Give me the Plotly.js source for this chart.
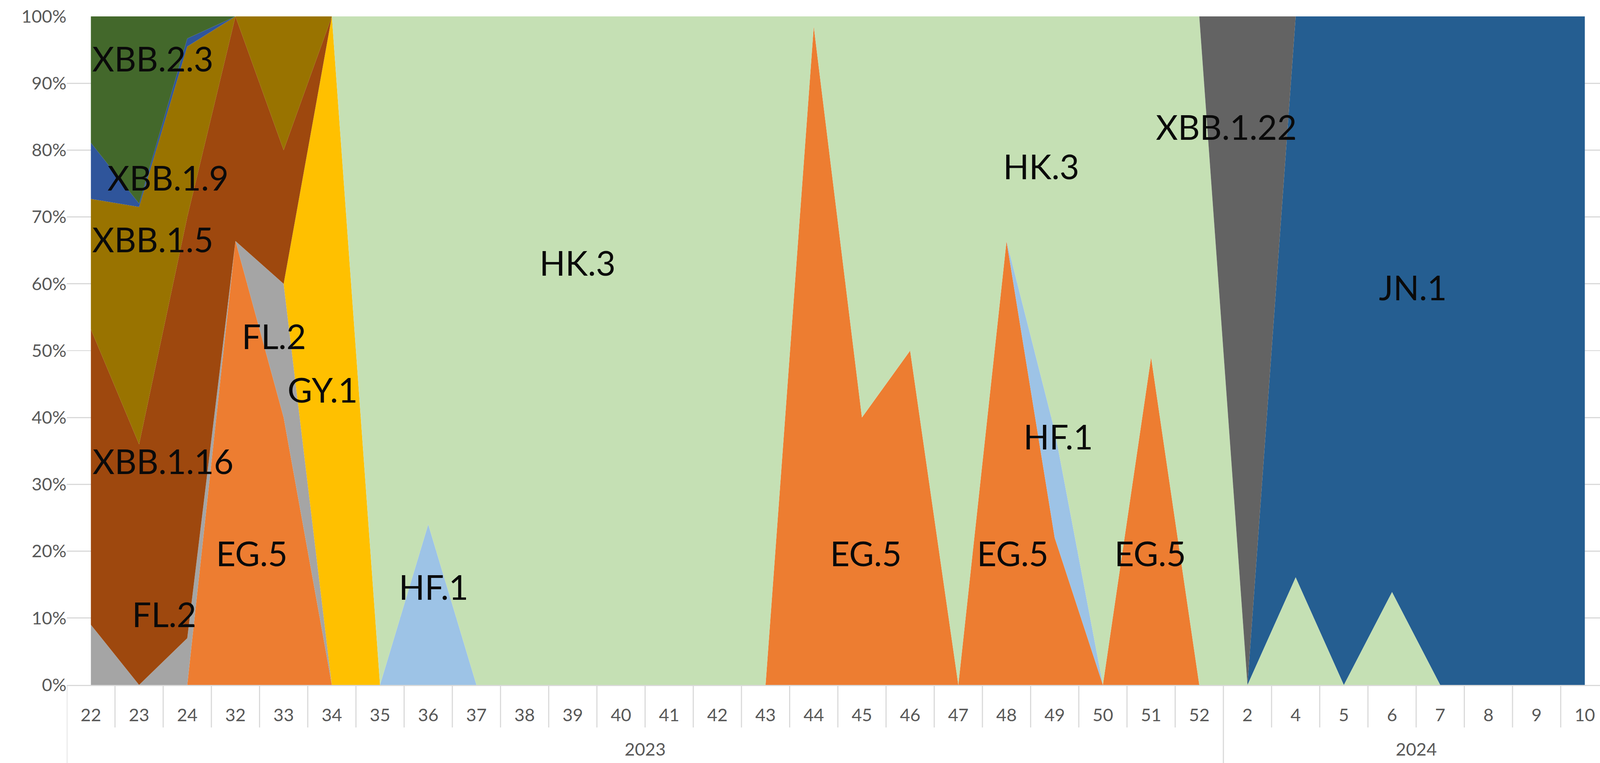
<!DOCTYPE html>
<html>
<head>
<meta charset="utf-8">
<script src="https://cdn.plot.ly/plotly-3.0.1.min.js"></script>
<style>
html,body{margin:0;padding:0;background:#fff;overflow:hidden;}
#chart{position:absolute;left:0;top:0;}
</style>
</head>
<body>
<div id="chart"></div>
<script>
// Categories (week numbers) and their year groups
const weeks = ['22','23','24','32','33','34','35','36','37','38','39','40','41','42','43','44','45','46','47','48','49','50','51','52','2','4','5','6','7','8','9','10'];
const years = ['2023','2023','2023','2023','2023','2023','2023','2023','2023','2023','2023','2023','2023','2023','2023','2023','2023','2023','2023','2023','2023','2023','2023','2023','2024','2024','2024','2024','2024','2024','2024','2024'];

// Series shares (%) per week, stacked bottom -> top in this order
const EG5     = [0,0,0,66.4,40,0,0,0,0,0,0,0,0,0,0,98.5,40,50,0,66.4,22,0,49,0,0,0,0,0,0,0,0,0];
const FL2     = [9,0,7,0,20,0,0,0,0,0,0,0,0,0,0,0,0,0,0,0,0,0,0,0,0,0,0,0,0,0,0,0];
const GY1     = [0,0,0,0,0,100,0,0,0,0,0,0,0,0,0,0,0,0,0,0,0,0,0,0,0,0,0,0,0,0,0,0];
const HF1     = [0,0,0,0,0,0,0,24,0,0,0,0,0,0,0,0,0,0,0,0,16,0,0,0,0,0,0,0,0,0,0,0];
const HK3     = [0,0,0,0,0,0,100,76,100,100,100,100,100,100,100,1.5,60,50,100,33.6,62,100,51,100,0,16.1,0,13.9,0,0,0,0];
const JN1     = [0,0,0,0,0,0,0,0,0,0,0,0,0,0,0,0,0,0,0,0,0,0,0,0,0,83.9,100,86.1,100,100,100,100];
const XBB1_16 = [44.2,36,63,33.6,20,0,0,0,0,0,0,0,0,0,0,0,0,0,0,0,0,0,0,0,0,0,0,0,0,0,0,0];
const XBB1_22 = [0,0,0,0,0,0,0,0,0,0,0,0,0,0,0,0,0,0,0,0,0,0,0,0,100,0,0,0,0,0,0,0];
const XBB1_5  = [19.5,35.5,25.5,0,20,0,0,0,0,0,0,0,0,0,0,0,0,0,0,0,0,0,0,0,0,0,0,0,0,0,0,0];
const XBB1_9  = [8.4,0.5,1.2,0,0,0,0,0,0,0,0,0,0,0,0,0,0,0,0,0,0,0,0,0,0,0,0,0,0,0,0,0];
const XBB2_3  = [18.9,28,3.3,0,0,0,0,0,0,0,0,0,0,0,0,0,0,0,0,0,0,0,0,0,0,0,0,0,0,0,0,0];

const seriesNames = ['EG.5','FL.2','GY.1','HF.1','HK.3','JN.1','XBB.1.16','XBB.1.22','XBB.1.5','XBB.1.9','XBB.2.3'];
const seriesData  = [EG5, FL2, GY1, HF1, HK3, JN1, XBB1_16, XBB1_22, XBB1_5, XBB1_9, XBB2_3];
const seriesColors = ['#ED7D31','#A5A5A5','#FFC000','#9DC3E6','#C5E0B4','#255E91','#9E480E','#636363','#997300','#2F559B','#43682B'];

// In-chart text labels: [text, category index, y value]
const labelText = ['XBB.2.3','XBB.1.9','XBB.1.5','XBB.1.16','FL.2','EG.5','FL.2','GY.1','HF.1','HK.3','EG.5','EG.5','EG.5','HK.3','HF.1','XBB.1.22','JN.1'];
const labelX    = [1.29,1.60,1.29,1.50,1.52,3.34,3.80,4.81,7.11,10.10,16.08,19.13,21.98,19.72,20.07,23.56,27.43];
const labelY    = [93.7,75.9,66.7,33.5,10.6,19.7,52.2,44.2,14.7,63.2,19.7,19.7,19.7,77.6,37.2,83.5,59.5];

const yTicks = [0,10,20,30,40,50,60,70,80,90,100];

// Fit to the actual viewport (design size 4243 x 1954)
const W = window.innerWidth || 4243;
const H = window.innerHeight || 1954;
const sx = W / 4243, sy = H / 1954, sf = Math.min(sx, sy);
const chartDiv = document.getElementById('chart');
chartDiv.style.width = W + 'px';
chartDiv.style.height = H + 'px';

const mL = 177 * sx, mT = 42 * sy, mB = 200 * sy;
const plotH = H - mT - mB;
const plotW = W - mL;
const unitPx = 127.8 * sx;
const xMax = -0.5 + plotW / unitPx;

const traces = seriesNames.map((n, i) => ({
  type: 'scatter',
  x: weeks,
  y: seriesData[i],
  name: n,
  stackgroup: 'one',
  mode: 'none',
  fillcolor: seriesColors[i],
  line: {width: 0},
  hoverinfo: 'skip'
}));

// Category separators and year group labels, derived from the category arrays
const shapes = [];
const sepColor = '#D9D9D9';
const shortDrop = -109 * sy / plotH;
const longDrop = -(mB + 2) / plotH;
for (let i = 0; i <= weeks.length; i++) {
  const isGroupEdge = (i === 0) || (i < weeks.length && years[i] !== years[i-1]);
  shapes.push({
    type: 'line', xref: 'x', yref: 'paper',
    x0: i - 0.5, x1: i - 0.5, y0: 0, y1: isGroupEdge ? longDrop : shortDrop,
    line: {color: sepColor, width: 3 * sf}
  });
}

const annotations = labelText.map((t, i) => ({
  text: t, x: labelX[i], y: labelY[i], xref: 'x', yref: 'y',
  showarrow: false, xanchor: 'center', yanchor: 'middle',
  font: {family: 'Lato', size: 90 * sf, color: '#0a0a0a'}
}));

const uniqYears = [...new Set(years)];
uniqYears.forEach(yr => {
  const idx = years.map((v, i) => v === yr ? i : -1).filter(i => i >= 0);
  const center = (idx[0] + idx[idx.length - 1]) / 2;
  annotations.push({
    text: yr, x: center, y: -163 * sy / plotH, xref: 'x', yref: 'paper',
    showarrow: false, xanchor: 'center', yanchor: 'middle',
    font: {family: 'Lato', size: 47 * sf, color: '#595959'}
  });
});

const layout = {
  width: W, height: H,
  margin: {l: mL, r: 0, t: mT, b: mB, pad: 0, autoexpand: false},
  paper_bgcolor: '#ffffff', plot_bgcolor: '#ffffff',
  showlegend: false,
  hovermode: false,
  xaxis: {
    type: 'category',
    range: [-0.5, xMax],
    autorange: false,
    automargin: false,
    showgrid: false, zeroline: false,
    showline: true, linecolor: sepColor, linewidth: 3 * sf,
    ticks: '', ticklabelstandoff: 36 * sy,
    tickfont: {family: 'Lato', size: 47 * sf, color: '#595959'},
    fixedrange: true
  },
  yaxis: {
    range: [0, 100],
    autorange: false,
    automargin: false,
    tickmode: 'array', tickvals: yTicks, ticktext: yTicks.map(v => v + '%'),
    showgrid: true, gridcolor: sepColor, gridwidth: 3 * sf,
    zeroline: false, showline: false, ticks: '',
    ticklabelstandoff: 34 * sx,
    tickfont: {family: 'Lato', size: 47 * sf, color: '#595959'},
    fixedrange: true
  },
  shapes: shapes,
  annotations: annotations
};

Plotly.newPlot('chart', traces, layout, {displayModeBar: false, staticPlot: true});
</script>
</body>
</html>
